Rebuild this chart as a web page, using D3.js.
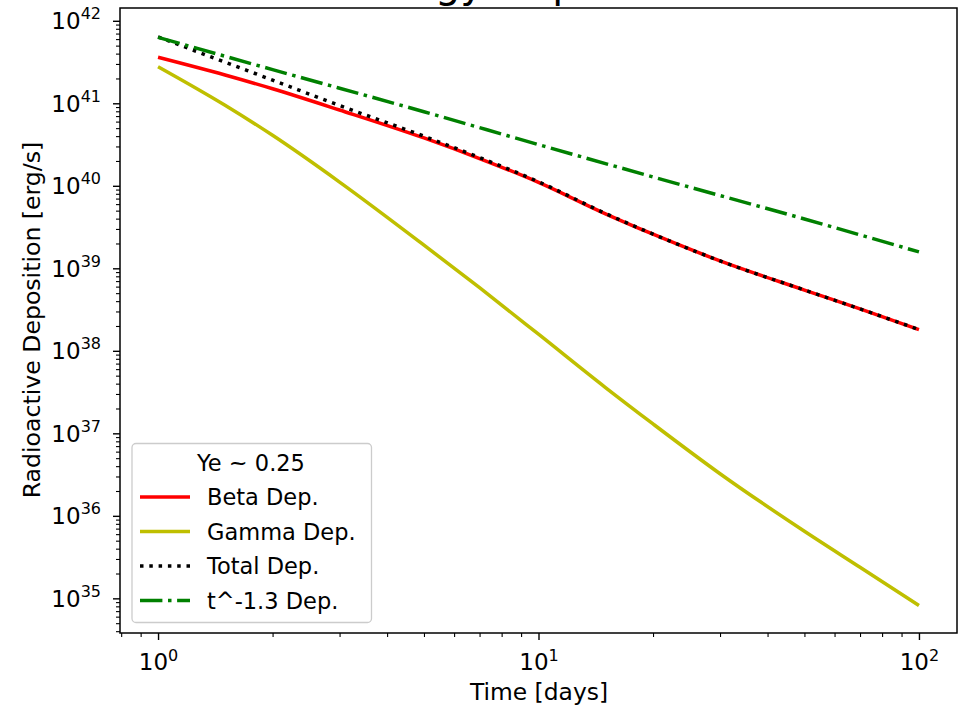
<!DOCTYPE html>
<html><head><meta charset="utf-8">
<script src="https://cdn.jsdelivr.net/npm/d3@7"></script>
<style>body{margin:0;background:#fff} svg{display:block} text{font-family:"DejaVu Sans",sans-serif;fill:#000}</style>
</head><body><svg id="c" width="964" height="709"></svg>
<script>
// ---- data ----
const times     = [1, 1.5, 2, 3, 5, 7, 10, 15, 20, 30, 50, 70, 100];
const betaDep   = [3.61e41, 2.20e41, 1.50e41, 8.29e40, 3.80e40, 2.14e40, 1.10e40, 4.58e39, 2.59e39, 1.23e39, 5.45e38, 3.22e38, 1.81e38];
const gammaDep  = [2.78e41, 9.48e40, 4.09e40, 1.11e40, 1.91e39, 5.82e38, 1.59e38, 3.59e37, 1.30e37, 3.24e36, 6.50e35, 2.38e35, 8.2e34];
const totalDep  = [6.39e41, 3.15e41, 1.91e41, 9.40e40, 3.99e40, 2.20e40, 1.12e40, 4.62e39, 2.60e39, 1.23e39, 5.46e38, 3.22e38, 1.81e38];
const powerTimes = [1, 2, 5, 10, 20, 50, 100];
const powerDep   = [6.3e41, 2.56e41, 7.9e40, 3.16e40, 1.28e40, 3.96e39, 1.58e39];
const xTickValues = [1, 10, 100];
const xTickExps   = ["0", "1", "2"];
const yTickValues = [1e35, 1e36, 1e37, 1e38, 1e39, 1e40, 1e41, 1e42];
const yTickExps   = ["35", "36", "37", "38", "39", "40", "41", "42"];
const seriesNames = ["Beta Dep.", "Gamma Dep.", "Total Dep.", "t^-1.3 Dep."];
const legendTitle = "Ye ~ 0.25";
const titleText = "Energy Deposition";
const xLabel = "Time [days]";
const yLabel = "Radioactive Deposition [erg/s]";

// ---- layout ----
const L = 120, R = 957, T = 8, B = 633;
const svg = d3.select("#c");
const x = d3.scaleLog().domain([Math.pow(10, -0.1), Math.pow(10, 2.1)]).range([L, R]);
const y = d3.scaleLog().domain([Math.pow(10, 34.58), Math.pow(10, 42.155)]).range([B, T]);

const styles = [
  {color: "#ff0000", dash: null},
  {color: "#bfbf00", dash: null},
  {color: "#000000", dash: "3.5,5.8"},
  {color: "#008000", dash: "22.4,5.6,3.5,5.6"}
];
const LW = 3.5;

function minorTicks(dom) {
  const out = [];
  const lo = Math.floor(Math.log10(dom[0])), hi = Math.ceil(Math.log10(dom[1]));
  for (let e = lo; e <= hi; e++) for (let m = 2; m <= 9; m++) {
    const v = m * Math.pow(10, e);
    if (v >= dom[0] && v <= dom[1]) out.push(v);
  }
  return out;
}

// minor ticks
svg.append("g").attr("transform", `translate(0,${B})`)
  .call(d3.axisBottom(x).tickValues(minorTicks(x.domain())).tickSize(4).tickFormat(""))
  .call(g => g.select(".domain").remove())
  .call(g => g.selectAll("line").attr("stroke-width", 1.1));
svg.append("g").attr("transform", `translate(${L},0)`)
  .call(d3.axisLeft(y).tickValues(minorTicks(y.domain())).tickSize(4).tickFormat(""))
  .call(g => g.select(".domain").remove())
  .call(g => g.selectAll("line").attr("stroke-width", 1.1));

// x axis major
const gx = svg.append("g").attr("transform", `translate(0,${B})`)
  .call(d3.axisBottom(x).tickValues(xTickValues).tickSize(7).tickFormat(""))
  .call(g => g.select(".domain").remove())
  .call(g => g.selectAll("line").attr("stroke-width", 1.4));
gx.selectAll(".tick text").each(function(d, i) {
  const t = d3.select(this).attr("dy", null)
    .attr("y", 37).attr("font-size", 23).attr("text-anchor", "middle").attr("fill", "#000");
  t.text("");
  t.append("tspan").text("10");
  t.append("tspan").attr("font-size", 16).attr("dy", -9.5).text(xTickExps[i]);
});

// y axis major
const gy = svg.append("g").attr("transform", `translate(${L},0)`)
  .call(d3.axisLeft(y).tickValues(yTickValues).tickSize(7).tickFormat(""))
  .call(g => g.select(".domain").remove())
  .call(g => g.selectAll("line").attr("stroke-width", 1.4));
gy.selectAll(".tick text").each(function(d, i) {
  const t = d3.select(this).attr("dy", null).attr("x", -19).attr("y", 8)
    .attr("font-size", 23).attr("text-anchor", "end").attr("fill", "#000");
  t.text("");
  t.append("tspan").text("10");
  t.append("tspan").attr("font-size", 16).attr("dy", -10).text(yTickExps[i]);
});

// lines
const line = d3.line().x(d => x(d[0])).y(d => y(d[1])).curve(d3.curveMonotoneX);
const seriesData = [
  d3.zip(times, betaDep),
  d3.zip(times, gammaDep),
  d3.zip(times, totalDep),
  d3.zip(powerTimes, powerDep)
];
seriesData.forEach((s, i) => {
  svg.append("path").datum(s).attr("d", line)
    .attr("fill", "none").attr("stroke", styles[i].color).attr("stroke-width", LW)
    .attr("stroke-dasharray", styles[i].dash)
    .attr("stroke-linecap", "butt");
});

// spines
svg.append("rect").attr("x", L).attr("y", T).attr("width", R - L).attr("height", B - T)
  .attr("fill", "none").attr("stroke", "#000").attr("stroke-width", 1.5);

// legend
const lg = svg.append("g");
lg.append("rect").attr("x", 132).attr("y", 443.5).attr("width", 239.5).attr("height", 179)
  .attr("rx", 4).attr("fill", "#fff").attr("fill-opacity", 0.8)
  .attr("stroke", "#cccccc").attr("stroke-width", 1.3);
lg.append("text").attr("x", 251).attr("y", 471).attr("text-anchor", "middle")
  .attr("font-size", 22.5).text(legendTitle);
const rowY = [497, 531.5, 566, 600.5];
seriesNames.forEach((n, i) => {
  lg.append("line").attr("x1", 140).attr("x2", 190).attr("y1", rowY[i]).attr("y2", rowY[i])
    .attr("stroke", styles[i].color).attr("stroke-width", LW)
    .attr("stroke-dasharray", styles[i].dash);
  lg.append("text").attr("x", 207).attr("y", rowY[i] + 8).attr("font-size", 22.5).text(n);
});

// labels
svg.append("text").attr("x", 539).attr("y", 700).attr("text-anchor", "middle")
  .attr("font-size", 23.4).text(xLabel);
svg.append("text").attr("transform", "translate(40,320) rotate(-90)").attr("text-anchor", "middle")
  .attr("font-size", 23.6).text(yLabel);
svg.append("text").attr("x", 344).attr("y", -3.5).attr("font-size", 40).text(titleText);
</script></body></html>
